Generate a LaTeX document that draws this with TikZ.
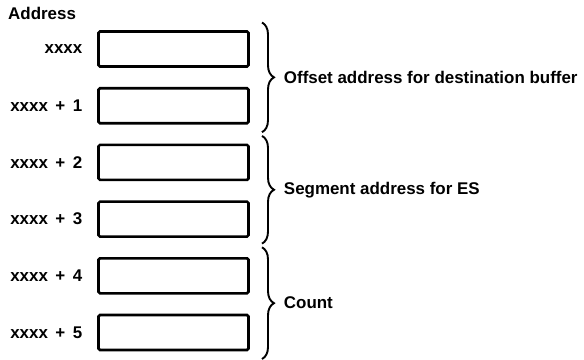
\documentclass[tikz,border=0pt]{standalone}
\usepackage{fontspec}
\setmainfont{Liberation Sans}
\usetikzlibrary{positioning, decorations.pathreplacing}

\begin{document}
\begin{tikzpicture}[x=1bp, y=1bp, node distance=21.7bp, font=\fontsize{17}{20}\selectfont\bfseries]
            \tikzstyle{cell} = [draw, rectangle, line width=2.6bp, rounded corners=1.5bp, minimum width=150bp, minimum height=35bp, inner sep=0pt, outer sep=0pt]
            \tikzstyle{addr} = [inner sep=0pt]
            \tikzstyle{brace} = [decorate, decoration={brace, amplitude=12bp}, line width=1.9bp]

            \useasboundingbox (0,0) rectangle (584,-359);

            % Memory cells
            \node[cell] (c0) at (173.5,-49) {};
            \node[cell, below=of c0] (c1) {};
            \node[cell, below=of c1] (c2) {};
            \node[cell, below=of c2] (c3) {};
            \node[cell, below=of c3] (c4) {};
            \node[cell, below=of c4] (c5) {};

            % Address labels
            \node[addr, anchor=west] (title) at (8,-13) {Address};
            \node[addr, left=16bp of c0] (a0) {xxxx};
            \node[addr, left=16bp of c1] (a1) {xxxx \,+\, 1};
            \node[addr, left=16bp of c2] (a2) {xxxx \,+\, 2};
            \node[addr, left=16bp of c3] (a3) {xxxx \,+\, 3};
            \node[addr, left=16bp of c4] (a4) {xxxx \,+\, 4};
            \node[addr, left=16bp of c5] (a5) {xxxx \,+\, 5};

            % Braces
            \draw[brace] ([xshift=13.5bp, yshift=9bp]c0.north east) -- ([xshift=13.5bp, yshift=-9bp]c1.south east)
                node[addr, midway, right=21bp] (d0) {Offset address for destination buffer};
            \draw[brace] ([xshift=13.5bp, yshift=9bp]c2.north east) -- ([xshift=13.5bp, yshift=-7bp]c3.south east)
                node[addr, midway, right=21bp] (d1) {Segment address for ES};
            \draw[brace] ([xshift=13.5bp, yshift=11bp]c4.north east) -- ([xshift=13.5bp, yshift=-9bp]c5.south east)
                node[addr, midway, right=21bp] (d2) {Count};
        \end{tikzpicture}
\end{document}
